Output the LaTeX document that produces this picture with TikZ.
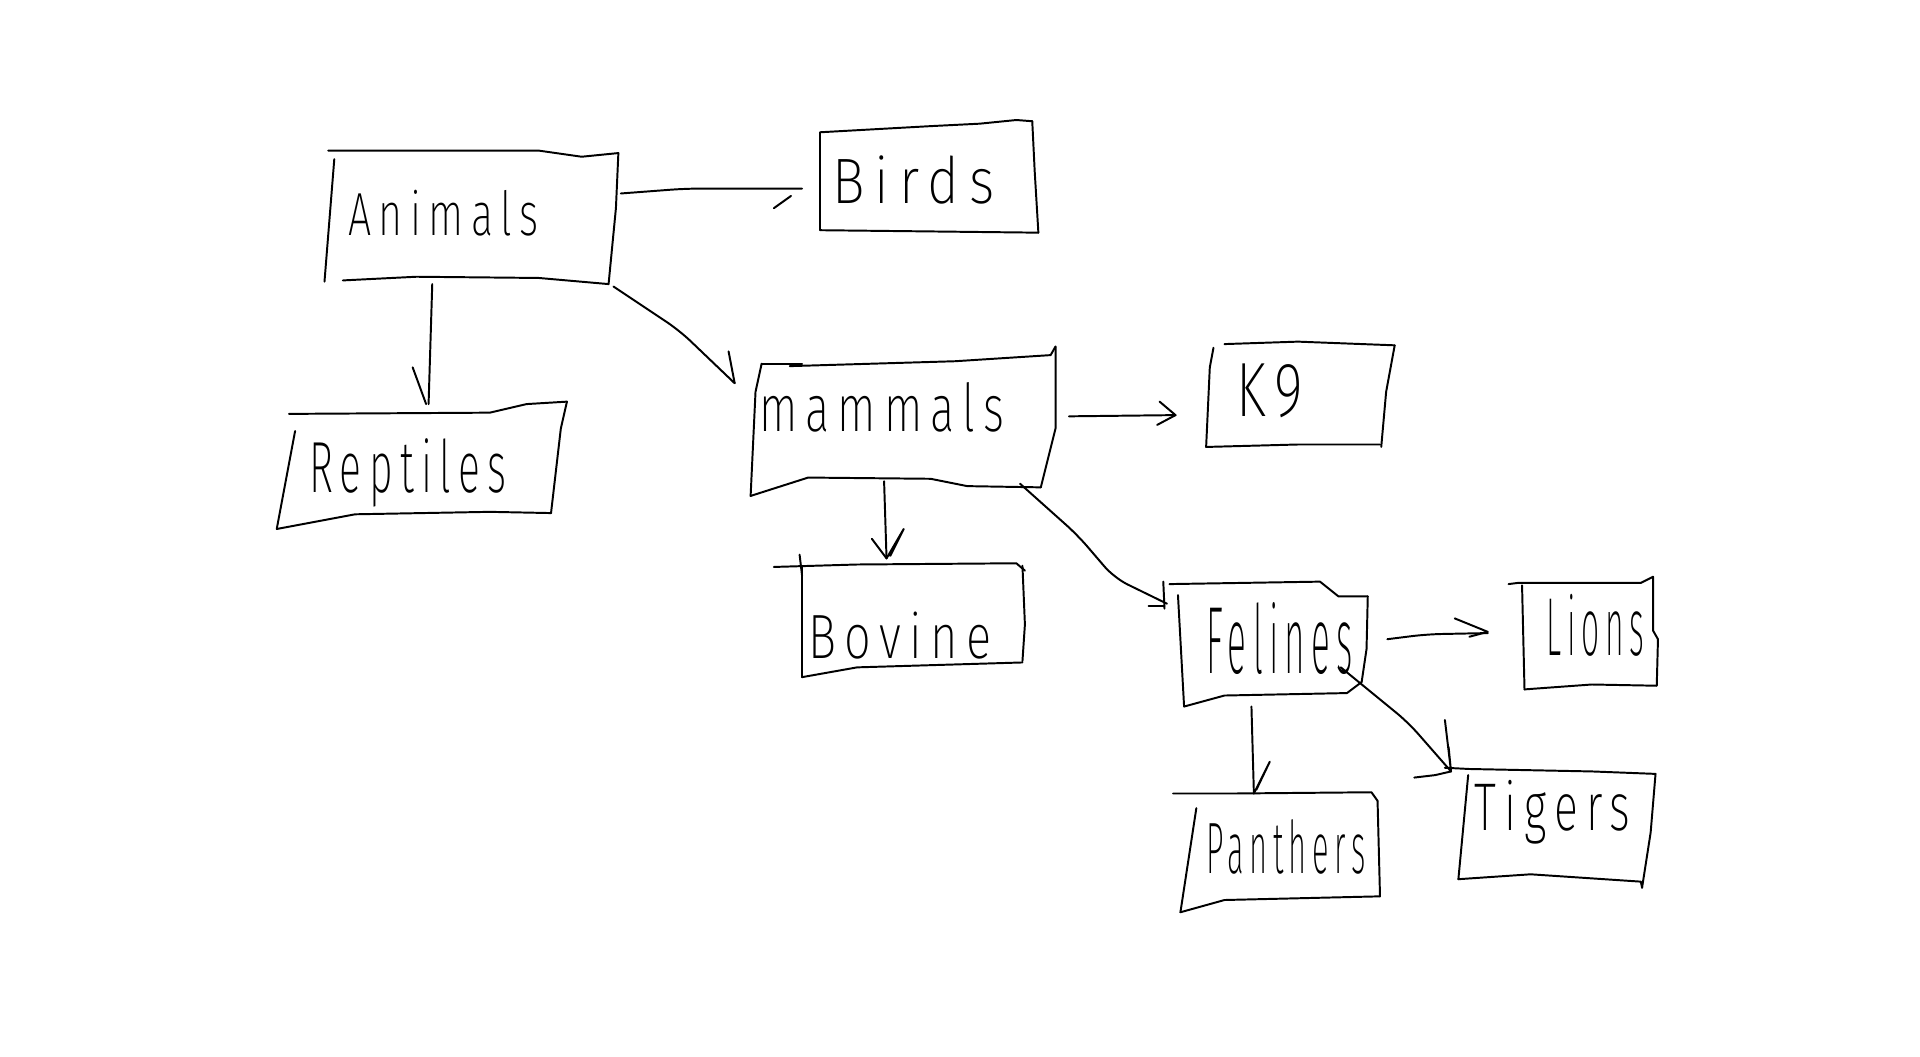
\documentclass[tikz,border=0pt]{standalone}
\usepackage{fontspec}
\newfontfamily\hand{Fira Sans ExtraLight}[LetterSpace=18]
\usetikzlibrary{calc}
% a handwritten word stretched to a given width and height
\newcommand\hw[3]{\resizebox{#1pt}{#2pt}{\hand #3}}
\tikzset{
  pen/.style={line width=1.6pt, line cap=round, line join=round, black},
  word/.style={inner sep=0pt, anchor=base},
}
\begin{document}
\begin{tikzpicture}[x=1pt,y=-1pt]
\useasboundingbox (0,0) rectangle (1568,863);
\fill[white] (0,0) rectangle (1568,863);

% ---- words ----
\node[word] (animals)  at (362,192)  {\hw{155}{37}{Animals}};
\node[word] (birds)    at (746,166)  {\hw{132}{39}{Birds}};
\node[word] (reptiles) at (333,402)  {\hw{161}{44}{Reptiles}};
\node[word] (mammals)  at (720,352)  {\hw{200}{40}{mammals}};
\node[word] (k9)       at (1037,340) {\hw{55}{43}{K9}};
\node[word] (bovine)   at (735,538)  {\hw{150}{38}{Bovine}};
\node[word] (felines)  at (1045,550) {\hw{120}{58}{Felines}};
\node[word] (lions)    at (1303,535) {\hw{80}{50}{Lions}};
\node[word] (panthers) at (1050,713) {\hw{130}{44}{Panthers}};
\node[word] (tigers)   at (1268,678) {\hw{127}{41}{Tigers}};

% ---- sketched frames ----
\begin{scope}[pen]
% Animals
\draw (268,123) -- (440,123) -- (475,128) -- (505,125);
\draw (273,130) -- (265,230);
\draw (505,125) -- (503,170) -- (497,232);
\draw (280,229) -- (340,226) -- (440,227) -- (497,232);
% Birds
\draw (670,108) -- (760,103) -- (800,101) -- (830,98) -- (843,99);
\draw (670,108) -- (670,188);
\draw (843,99) -- (845,140) -- (848,190);
\draw (670,188) -- (760,189) -- (848,190);
% Reptiles
\draw (236,338) -- (400,337) -- (430,330) -- (463,328);
\draw (241,352) -- (226,432);
\draw (463,328) -- (458,350) -- (450,419);
\draw (226,432) -- (290,420) -- (400,418) -- (450,419);
% mammals
\draw (622,297) -- (655,297);
\draw (645,299) -- (780,295) -- (858,290) -- (862,283);
\draw (622,297) -- (617,320) -- (613,405);
\draw (862,283) -- (862,350) -- (850,398);
\draw (613,405) -- (660,390) -- (760,391) -- (790,397) -- (850,398);
% K9
\draw (991,284) -- (988,300) -- (985,365);
\draw (1000,281) -- (1060,279) -- (1139,282);
\draw (1139,282) -- (1132,320) -- (1128,365);
\draw (985,365) -- (1060,363) -- (1127,363);
% Bovine
\draw (632,463) -- (700,461) -- (830,460) -- (837,466);
\draw (653,453) -- (655,470);
\draw (655,463) -- (655,553);
\draw (835,462) -- (837,510) -- (835,540);
\draw (655,553) -- (700,545) -- (835,541);
% Felines
\draw (955,477) -- (1078,475) -- (1093,487) -- (1117,487);
\draw (962,486) -- (967,577);
\draw (1117,487) -- (1116,530) -- (1112,557);
\draw (967,577) -- (1000,568) -- (1100,566) -- (1112,557);
% Lions
\draw (1232,477) -- (1240,476) -- (1340,476) -- (1350,471);
\draw (1243,478) -- (1245,563);
\draw (1350,471) -- (1350,515) -- (1354,522) -- (1353,560);
\draw (1245,563) -- (1300,559) -- (1353,560);
% Panthers
\draw (958,648) -- (1010,648) -- (1120,647) -- (1125,654);
\draw (977,660) -- (964,745);
\draw (1125,654) -- (1127,732);
\draw (964,745) -- (1000,735) -- (1127,732);
% Tigers
\draw (1180,627) -- (1200,628) -- (1300,630) -- (1352,632);
\draw (1199,633) -- (1191,718);
\draw (1352,632) -- (1348,680) -- (1341,725);
\draw (1191,718) -- (1250,714) -- (1340,720) -- (1341,725);
\end{scope}

% ---- connectors ----
\begin{scope}[pen, rounded corners=12pt]
% Animals -> Birds
\draw ($(animals.base)+(145,-34)$) -- ($(animals.base)+(198,-38)$) -- ($(birds.base)+(-91,-12)$);
\draw[sharp corners] ($(birds.base)+(-114,4)$) -- ($(birds.base)+(-100,-6)$);
% Animals -> Reptiles
\draw ($(animals.base)+(-9,40)$) -- ($(reptiles.base)+(17,-72)$);
\draw ($(reptiles.base)+(4,-102)$) -- ($(reptiles.base)+(15,-72)$);
% Animals -> mammals
\draw ($(animals.base)+(139,42)$) -- ($(animals.base)+(193,78)$) -- ($(mammals.base)+(-120,-39)$);
\draw ($(mammals.base)+(-125,-65)$) -- ($(mammals.base)+(-120,-39)$);
% mammals -> K9
\draw ($(mammals.base)+(153,-12)$) -- ($(k9.base)+(-77,-1)$);
\draw[sharp corners] ($(k9.base)+(-90,-12)$) -- ($(k9.base)+(-77,-1)$) -- ($(k9.base)+(-92,7)$);
% mammals -> Bovine
\draw ($(mammals.base)+(2,41)$) -- ($(bovine.base)+(-11,-82)$);
\draw[sharp corners] ($(bovine.base)+(-23,-98)$) -- ($(bovine.base)+(-11,-82)$) -- ($(bovine.base)+(3,-106)$) -- ($(bovine.base)+(-8,-84)$);
% mammals -> Felines
\draw ($(mammals.base)+(113,43)$) -- ($(mammals.base)+(160,85)$) -- ($(mammals.base)+(190,120)$) -- ($(felines.base)+(-92,-57)$);
\draw[sharp corners] ($(felines.base)+(-95,-75)$) -- ($(felines.base)+(-94,-53)$);
\draw[sharp corners] ($(felines.base)+(-107,-55)$) -- ($(felines.base)+(-94,-55)$);
% Felines -> Lions
\draw ($(felines.base)+(88,-28)$) -- ($(felines.base)+(120,-32)$) -- ($(lions.base)+(-88,-18)$);
\draw[sharp corners] ($(lions.base)+(-115,-30)$) -- ($(lions.base)+(-88,-19)$) -- ($(lions.base)+(-103,-15)$);
% Felines -> Panthers
\draw ($(felines.base)+(-23,27)$) -- ($(panthers.base)+(-26,-65)$);
\draw[sharp corners] ($(panthers.base)+(-26,-65)$) -- ($(panthers.base)+(-13,-91)$) -- ($(panthers.base)+(-24,-68)$);
% Felines -> Tigers
\draw ($(felines.base)+(50,-5)$) -- ($(felines.base)+(105,40)$) -- ($(tigers.base)+(-83,-48)$);
\draw[sharp corners] ($(tigers.base)+(-88,-90)$) -- ($(tigers.base)+(-83,-48)$) -- ($(tigers.base)+(-85,-68)$);
\draw[sharp corners] ($(tigers.base)+(-113,-43)$) -- ($(tigers.base)+(-96,-45)$) -- ($(tigers.base)+(-83,-48)$);
\end{scope}
\end{tikzpicture}
\end{document}
